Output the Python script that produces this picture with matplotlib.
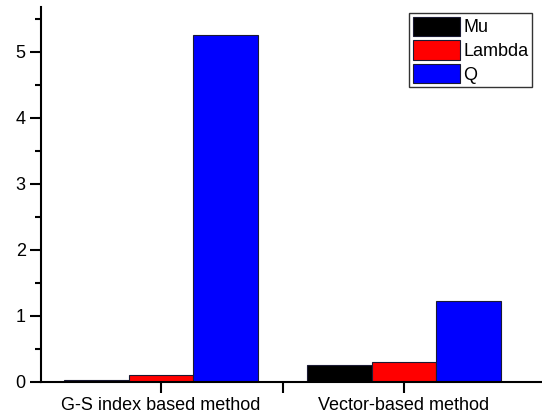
import numpy as np
import matplotlib
matplotlib.use("Agg")
import matplotlib.pyplot as plt
from matplotlib.ticker import MultipleLocator, FixedLocator

# ── Data ──────────────────────────────────────────────────────────────────────
methods = ["G-S index based method", "Vector-based method"]
series = ["Mu", "Lambda", "Q"]
mu_vals = [0.03, 0.25]
lambda_vals = [0.10, 0.30]
q_vals = [5.26, 1.22]
colors = ["#000000", "#ff0000", "#0000ff"]

plt.rcParams["font.family"] = ["Liberation Sans", "DejaVu Sans"]

fig = plt.figure(figsize=(5.42, 4.17), dpi=100)
ax = fig.add_axes([41 / 542, 35 / 417, 501 / 542, 375 / 417])

x = np.arange(len(methods))
width = 0.267
for i, (name, vals) in enumerate(zip(series, [mu_vals, lambda_vals, q_vals])):
    ax.bar(x + (i - 1) * width, vals, width, color=colors[i], label=name,
           edgecolor="#1a1a33", linewidth=0.8)

ax.set_xlim(-0.494, 1.568)
ax.set_ylim(0, 5.68)
ax.set_xticks(x)
ax.set_xticklabels(methods, fontsize=13)
ax.xaxis.set_minor_locator(FixedLocator([0.5]))
ax.yaxis.set_major_locator(MultipleLocator(1))
ax.yaxis.set_minor_locator(MultipleLocator(0.5))
ax.tick_params(axis="y", labelsize=13)

for s in ["top", "right"]:
    ax.spines[s].set_visible(False)
for s in ["left", "bottom"]:
    ax.spines[s].set_linewidth(1.5)
ax.tick_params(which="major", direction="out", length=8, width=1.5, pad=3)
ax.tick_params(which="minor", direction="out", length=4.5, width=1.5)
ax.tick_params(axis="x", which="minor", length=8)

leg = ax.legend(loc="upper right", bbox_to_anchor=(0.98, 0.984), fontsize=13,
                frameon=True, fancybox=False, shadow=False, framealpha=1,
                handlelength=2.6, handleheight=1.3, handletextpad=0.2,
                borderpad=0.2, labelspacing=0.2, borderaxespad=0)
leg.get_frame().set_edgecolor("#333333")
leg.get_frame().set_linewidth(1.0)

fig.savefig("out.png", dpi=100)
